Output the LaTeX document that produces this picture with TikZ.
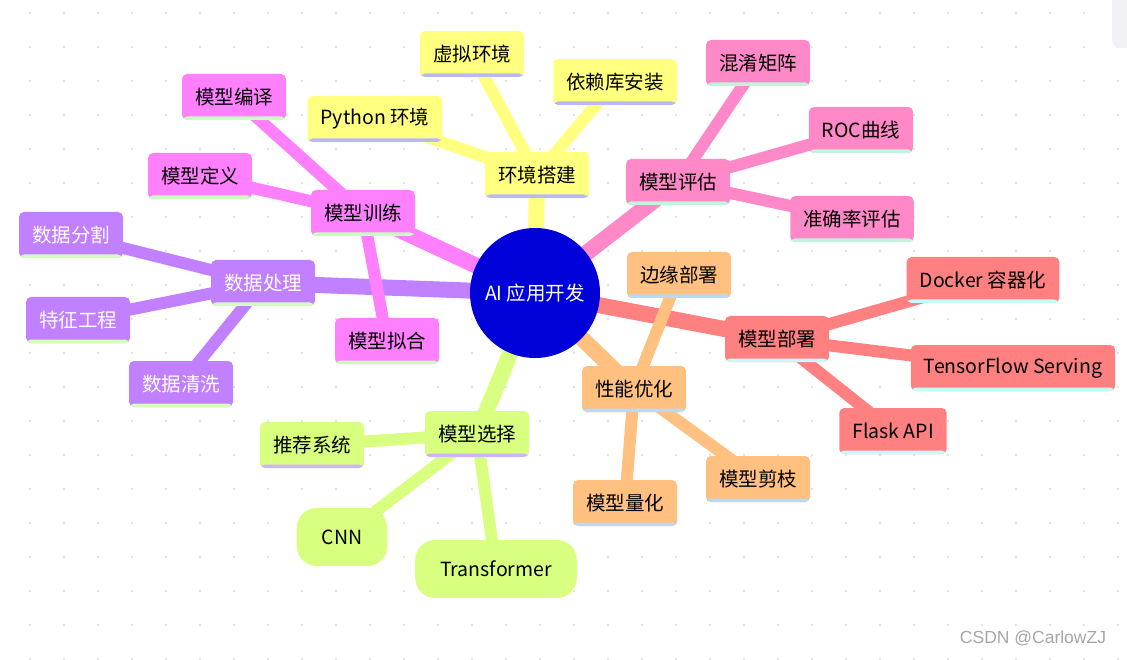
\documentclass[tikz,border=0pt]{standalone}
\usepackage{fontspec}
\newfontfamily\cjk{Noto Sans CJK SC}
\newfontfamily\wmfont{Liberation Sans}
\usetikzlibrary{backgrounds}

\definecolor{rootfill}{HTML}{0000D8}
\definecolor{envfill}{HTML}{FFFF80}
\definecolor{envline}{HTML}{B8B8F8}
\definecolor{evalfill}{HTML}{FF88C8}
\definecolor{evalline}{HTML}{C0F5DC}
\definecolor{trainfill}{HTML}{FF80FF}
\definecolor{trainline}{HTML}{C8FFC0}
\definecolor{datafill}{HTML}{C080FF}
\definecolor{dataline}{HTML}{D4FFC0}
\definecolor{deployfill}{HTML}{FF8080}
\definecolor{deployline}{HTML}{C4FCFC}
\definecolor{optfill}{HTML}{FFC080}
\definecolor{optline}{HTML}{B8DAFA}
\definecolor{selfill}{HTML}{D8FF80}
\definecolor{selline}{HTML}{D0B4FA}
\definecolor{dotc}{HTML}{E2E2E2}
\definecolor{uiback}{HTML}{F2F2F6}

\tikzset{
  x=1pt, y=-1pt,
  mnode/.style  = {shape=rectangle, rounded corners=5pt,
                   font=\cjk\fontsize{19.5}{19.5}\selectfont,
                   inner xsep=13pt, minimum height=46pt, text=black},
  uline/.style  = {path picture={\fill[#1] ([yshift=3.5pt]path picture bounding box.south west)
                   rectangle (path picture bounding box.south east);}},
  root/.style   = {circle, fill=rootfill, minimum size=130pt, text=white,
                   font=\cjk\fontsize{19.5}{19.5}\selectfont},
  env/.style    = {mnode, fill=envfill, uline=envline},
  eval/.style   = {mnode, fill=evalfill, uline=evalline},
  train/.style  = {mnode, fill=trainfill, uline=trainline},
  data/.style   = {mnode, fill=datafill, uline=dataline, text=white},
  deploy/.style = {mnode, fill=deployfill, uline=deployline},
  opt/.style    = {mnode, fill=optfill, uline=optline},
  sel/.style    = {mnode, fill=selfill, uline=selline},
  pill/.style   = {mnode, fill=selfill, rounded corners=20pt,
                   inner xsep=25pt, minimum height=58pt},
  trunk/.style  = {line width=16pt},
  twig/.style   = {line width=12pt}
}

\begin{document}
\begin{tikzpicture}
\useasboundingbox (0,0) rectangle (1127,660);
\fill[uiback, rounded corners=8pt] (1112,-10) rectangle (1140,48);

% root
\node [root] (ai) at (535,293) {AI 应用开发};

% sections
\node [env]    (env)    at (537,175) {环境搭建};
\node [eval]   (eval)   at (678,182) {模型评估};
\node [train]  (train)  at (363,213) {模型训练};
\node [data]   (data)   at (263,283) {数据处理};
\node [deploy] (deploy) at (777,339) {模型部署};
\node [opt]    (opt)    at (634,389) {性能优化};
\node [sel]    (sel)    at (477,434) {模型选择};

% leaves
\node [env] (venv)  at (472,54)  {虚拟环境};
\node [env] (deps)  at (615,82)  {依赖库安装};
\node [env] (py)    at (375,119) {Python 环境};

\node [eval] (cm)   at (758,63)  {混淆矩阵};
\node [eval] (roc)  at (861,130) {ROC曲线};
\node [eval] (acc)  at (852,219) {准确率评估};

\node [train] (comp) at (234,97)  {模型编译};
\node [train] (def)  at (200,176) {模型定义};
\node [train] (fit)  at (387,341) {模型拟合};

\node [data] (split) at (71,235)  {数据分割};
\node [data] (feat)  at (78,320)  {特征工程};
\node [data] (clean) at (181,384) {数据清洗};

\node [deploy] (docker) at (983,280)  {Docker 容器化};
\node [deploy] (tfs)    at (1013,368) {TensorFlow Serving};
\node [deploy] (flask)  at (893,431)  {Flask API};

\node [opt] (edge)  at (679,275) {边缘部署};
\node [opt] (prune) at (758,479) {模型剪枝};
\node [opt] (quant) at (625,503) {模型量化};

\node [sel]  (rec)   at (312,445) {推荐系统};
\node [pill] (cnn)   at (342,537) {CNN};
\node [pill] (trans) at (496,569) {Transformer};

% watermark
\node [font=\wmfont\fontsize{17.5}{17.5}\selectfont, text=black!35] (wm) at (1033,638) {CSDN @CarlowZJ};

\begin{scope}[on background layer]
  % dot grid
  \foreach \i in {0,...,32}
    \foreach \j in {0,...,19}
      \fill[dotc] (30+34*\i, 13+34*\j) circle (1.4pt);

  % trunks, centre to centre
  \draw [trunk, envfill]    (ai.center) -- (env.center);
  \draw [trunk, datafill]   (ai.center) -- (data.center);
  \draw [trunk, selfill]    (ai.center) -- (sel.center);
  \draw [trunk, trainfill]  (ai.center) -- (train.center);
  \draw [trunk, evalfill]   (ai.center) -- (eval.center);
  \draw [trunk, deployfill] (ai.center) -- (deploy.center);
  \draw [trunk, optfill]    (ai.center) -- (opt.center);

  % twigs
  \foreach \leaf in {venv,deps,py}
    \draw [twig, envfill] (env.center) -- (\leaf.center);
  \foreach \leaf in {split,feat,clean}
    \draw [twig, datafill] (data.center) -- (\leaf.center);
  \foreach \leaf in {rec,cnn,trans}
    \draw [twig, selfill] (sel.center) -- (\leaf.center);
  \foreach \leaf in {comp,def,fit}
    \draw [twig, trainfill] (train.center) -- (\leaf.center);
  \foreach \leaf in {cm,roc,acc}
    \draw [twig, evalfill] (eval.center) -- (\leaf.center);
  \foreach \leaf in {docker,tfs,flask}
    \draw [twig, deployfill] (deploy.center) -- (\leaf.center);
  \foreach \leaf in {edge,prune,quant}
    \draw [twig, optfill] (opt.center) -- (\leaf.center);
\end{scope}
\end{tikzpicture}
\end{document}
